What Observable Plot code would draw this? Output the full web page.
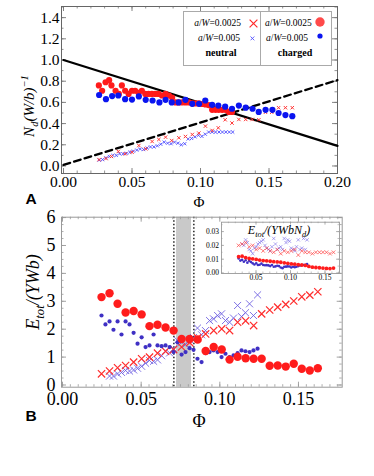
<!DOCTYPE html>
<html><head><meta charset="utf-8">
<script src="https://cdn.jsdelivr.net/npm/d3@7"></script>
<script src="https://cdn.jsdelivr.net/npm/@observablehq/plot@0.6"></script>
<style>
body{margin:0;background:#fff;}
#wrap{position:relative;width:374px;height:476px;overflow:hidden;font-family:"Liberation Serif","Times New Roman","DejaVu Serif",serif;color:#000;}
.abs{position:absolute;}
.rot{transform:translate(-50%,-50%) rotate(-90deg);white-space:nowrap;line-height:1;font-style:italic;}
.ctr{transform:translate(-50%,-50%);white-space:nowrap;line-height:1;}
sub,sup{font-size:70%;line-height:0;}
.lg{font-size:9.5px;line-height:12px;white-space:nowrap;}
.lgb{font-size:10px;line-height:12px;font-weight:bold;white-space:nowrap;}
</style></head><body>
<div id="wrap">
  <div id="pa" class="abs" style="left:0;top:0"></div>
  <div id="pb" class="abs" style="left:0;top:210px"></div>
  <div id="pi" class="abs" style="left:198px;top:214px"></div>

  <!-- legend panel A -->
  <div class="abs" style="left:183px;top:11px;width:147px;height:53px;border:1px solid #aaa;background:#fff;"></div>
  <div class="abs" style="left:260px;top:11px;width:0;height:54px;border-left:1px solid #aaa;"></div>
  <div class="abs lg" style="right:133px;top:17.3px"><i>a</i>/<i>W</i>=0.0025</div>
  <div class="abs lg" style="right:134px;top:31.7px"><i>a</i>/<i>W</i>=0.005</div>
  <div class="abs lg" style="left:265px;top:17.3px"><i>a</i>/<i>W</i>=0.0025</div>
  <div class="abs lg" style="left:266px;top:31.7px"><i>a</i>/<i>W</i>=0.005</div>
  <div class="abs lgb ctr" style="left:221px;top:52.7px">neutral</div>
  <div class="abs lgb ctr" style="left:295px;top:52.7px">charged</div>
  <svg class="abs" style="left:248.5px;top:19px" width="9" height="9"><path d="M0.6,0.6L8.4,8.4M8.4,0.6L0.6,8.4" stroke="#ff2a2a" stroke-width="1.2" fill="none"/></svg>
  <svg class="abs" style="left:249.5px;top:35.5px" width="5" height="5"><path d="M0.5,0.5L4.3,4.3M4.3,0.5L0.5,4.3" stroke="#5050ff" stroke-width="0.9" fill="none"/></svg>
  <svg class="abs" style="left:314.5px;top:16.8px" width="10" height="10"><circle cx="5" cy="5" r="4.7" fill="#ff4a4a"/></svg>
  <svg class="abs" style="left:316.5px;top:32.8px" width="6" height="6"><circle cx="3" cy="3" r="2.6" fill="#0a14f0"/></svg>

  <!-- axis labels -->
  <div class="abs rot" style="left:29px;top:106px;font-size:15px;">N<sub>d</sub>(W/b)<sup>−1</sup></div>
  <div class="abs ctr" style="left:199px;top:202px;font-size:15px;">Φ</div>
  <div class="abs ctr" style="left:31px;top:199px;font-size:15.5px;font-family:'Liberation Sans',Arial,sans-serif;font-weight:bold;">A</div>

  <div class="abs rot" style="left:33px;top:292px;font-size:18px;">E<sub>tot</sub>/(YWb)</div>
  <div class="abs ctr" style="left:199px;top:421px;font-size:18px;">Φ</div>
  <div class="abs ctr" style="left:31px;top:416px;font-size:15.5px;font-family:'Liberation Sans',Arial,sans-serif;font-weight:bold;">B</div>

  <div class="abs ctr" style="left:279px;top:230px;font-size:12px;font-style:italic;">E<sub>tot</sub>/(YWbN<sub>d</sub>)</div>
</div>
<script>
// ---------- Panel A data ----------
const phiA_lines = [0, 0.2];
const nA_solid = [1.0, 0.19];
const nA_dashed = [0.01, 0.81];

const phiA_chgRed = [0.0258,0.0282,0.0307,0.0333,0.0350,0.0380,0.0404,0.0426,0.0450,0.0475,0.0500,0.0523,0.0548,0.0572,0.0597,0.0620,0.0645,0.0670,0.0694,0.0718,0.0745,0.0770,0.0793,0.0818,0.0840,0.0865,0.0890,0.0915,0.0940,0.0963,0.0988,0.1012,0.1036,0.1060,0.1085,0.1110,0.1133,0.1158,0.1182,0.1207,0.1230];
const nA_chgRed = [.76,.71,.79,.81,.76,.71,.68,.76,.71,.68,.71,.71,.69,.71,.68,.68,.68,.68,.68,.665,.68,.665,.645,.60,.60,.60,.60,.60,.59,.59,.59,.585,.58,.575,.53,.53,.53,.53,.53,.51,.51];

const phiA_chgBlue = [0.026,0.031,0.0355,0.040,0.045,0.050,0.055,0.060,0.065,0.070,0.0745,0.079,0.084,0.089,0.094,0.099,0.1035,0.1085,0.113,0.118,0.123,0.128,0.133,0.138,0.1425,0.1475,0.1525,0.157,0.162,0.167];
const nA_chgBlue = [.67,.63,.66,.665,.63,.627,.656,.624,.618,.60,.624,.60,.60,.624,.587,.587,.618,.577,.57,.56,.54,.57,.55,.54,.51,.53,.53,.50,.48,.47];

const phiA_neuRed = [0.026,0.031,0.035,0.040,0.045,0.050,0.055,0.060,0.0647,0.0696,0.0745,0.079,0.0842,0.089,0.094,0.0988,0.1036,0.1085,0.113,0.118,0.123,0.128,0.133,0.1377,0.1426,0.1474,0.152,0.157,0.162,0.167];
const nA_neuRed = [.06,.07,.09,.137,.115,.13,.193,.162,.231,.25,.272,.24,.266,.278,.297,.31,.376,.335,.36,.436,.405,.439,.439,.439,.436,.507,.507,.55,.55,.55];

const phiA_neuBlue = [0.026,0.0285,0.031,0.0335,0.036,0.0385,0.041,0.0435,0.046,0.0485,0.051,0.0535,0.056,0.0585,0.061,0.0635,0.066,0.0685,0.071,0.0735,0.076,0.0785,0.081,0.0835,0.086,0.0885,0.091,0.0935,0.096,0.0985,0.101,0.1035,0.106,0.1085,0.111,0.1135,0.116,0.1185,0.121,0.1235];
const nA_neuBlue = [.055,.06,.077,.09,.10,.10,.115,.115,.12,.13,.14,.15,.16,.155,.17,.18,.18,.19,.205,.225,.215,.21,.225,.215,.20,.21,.255,.26,.275,.29,.28,.30,.32,.32,.32,.32,.32,.32,.32,.32];

// ---------- Panel B data ----------
const bandB = [0.0725, 0.082];
const dottedB = [0.0708, 0.0835];

const phiB_red = [0.0248,0.0299,0.0350,0.0401,0.0452,0.0503,0.0553,0.0604,0.0655,0.0706,0.0757,0.0808,0.0859,0.0910,0.0961,0.1012,0.1062,0.1113,0.1164,0.1215,0.1266,0.1317,0.1368,0.1419,0.1470,0.1521,0.1572,0.1623];
const eB_chgRed = [3.15,3.29,2.91,2.60,2.65,2.53,2.11,2.16,2.06,1.95,1.65,1.65,1.63,1.22,1.36,1.27,0.91,1.01,0.96,0.94,0.94,0.69,0.70,0.66,0.76,0.58,0.52,0.60];
const eB_neuRed = [0.40,0.50,0.62,0.70,0.82,0.94,1.00,1.14,1.21,1.27,1.36,1.52,1.69,1.83,1.95,2.01,1.95,2.25,2.30,2.13,2.55,2.69,2.79,2.89,3.01,3.16,3.22,3.34];

const phiB_chgBlue = [0.0248,0.0273,0.0299,0.0324,0.0350,0.0375,0.0401,0.0426,0.0452,0.0477,0.0503,0.0528,0.0553,0.0579,0.0604,0.0630,0.0655,0.0681,0.0706,0.0731,0.0757,0.0782,0.0808,0.0833,0.0858,0.0884,0.0909,0.0935,0.0960,0.0986,0.1011,0.1036,0.1062,0.1087,0.1113,0.1138,0.1163,0.1189,0.1214,0.1240];
const eB_chgBlue = [2.49,2.17,2.28,1.98,2.28,1.81,2.28,2.17,1.87,1.48,1.71,1.36,1.42,1.81,1.42,1.39,1.42,1.36,1.18,1.53,1.09,1.18,1.32,1.26,0.94,0.82,1.14,1.18,1.24,1.18,1.00,1.12,1.00,1.06,1.14,1.24,1.21,1.18,1.24,1.30];

const phiB_neuBlue = [0.0299,0.0324,0.0350,0.0375,0.0401,0.0426,0.0452,0.0477,0.0503,0.0528,0.0553,0.0579,0.0604,0.0630,0.0655,0.0681,0.0706,0.0731,0.0757,0.0782,0.0808,0.0833,0.0858,0.0884,0.0909,0.0935,0.0960,0.0986,0.1011,0.1036,0.1062,0.1087,0.1113,0.1138,0.1163,0.1189,0.1214,0.1240];
const eB_neuBlue = [.32,.32,.40,.45,.52,.50,.54,.60,.67,.78,.88,.85,.90,1.05,1.21,1.15,1.30,1.60,1.53,1.45,1.62,1.70,2.04,1.80,1.95,2.31,2.37,2.49,2.55,2.31,2.25,2.40,2.85,2.45,2.59,2.91,2.49,3.23];

// ---------- Inset data (E_tot / (Y W b N_d)) ----------
const iB_chgRed = [0.0118,0.0122,0.0112,0.0105,0.0103,0.0098,0.0094,0.0090,0.0088,0.0085,0.0082,0.0080,0.0078,0.0074,0.0070,0.0066,0.0064,0.0060,0.0058,0.0055,0.0048,0.0042,0.0040,0.0038,0.0036,0.0033,0.0032,0.0036];
const iB_neuRed = [0.020,0.021,0.022,0.019,0.020,0.017,0.018,0.016,0.018,0.016,0.015,0.017,0.014,0.016,0.015,0.016,0.017,0.013,0.016,0.015,0.015,0.014,0.015,0.015,0.015,0.015,0.014,0.015];
const iB_neuBlue = [0.021,0.020,0.024,0.022,0.017,0.016,0.014,0.018,0.019,0.021,0.022,0.023,0.024,0.020,0.018,0.017,0.016,0.019,0.025,0.021,0.017,0.018,0.019,0.017,0.025,0.022,0.024,0.023,0.018,0.017,0.016,0.019,0.024,0.017,0.018,0.025,0.017,0.024];
const iB_chgBlue = [0.0105,0.0090,0.0095,0.0082,0.0092,0.0075,0.0088,0.0080,0.0070,0.0062,0.0070,0.0058,0.0060,0.0068,0.0058,0.0056,0.0057,0.0055,0.0050,0.0058,0.0045,0.0048,0.0052,0.0050,0.0040,0.0035,0.0045,0.0046,0.0048,0.0047,0.0040,0.0045,0.0042,0.0045,0.0050,0.0055,0.0056,0.0058,0.0060,0.0064];

// ---------- tick values ----------
const xTicksA = [0, 0.05, 0.10, 0.15, 0.20];
const yTicksA = [0, 0.2, 0.4, 0.6, 0.8, 1.0, 1.2, 1.4];
const xTicksB = [0, 0.05, 0.10, 0.15];
const yTicksB = [0, 1, 2, 3, 4, 5, 6];
const xTicksI = [0.05, 0.10, 0.15];
const yTicksI = [0, 0.01, 0.02, 0.03];

const SERIF = "'Liberation Serif', 'Times New Roman', 'DejaVu Serif', serif";
const zip = (xs, ys) => xs.map((x, i) => ({x, y: ys[i]}));

function frameTicks(xs, ys, len, w, h, color, sw) {
  return [
    Plot.tickX(xs, {x: d => d, insetTop: h - len, stroke: color, strokeWidth: sw}),
    Plot.tickX(xs, {x: d => d, insetBottom: h - len, stroke: color, strokeWidth: sw}),
    Plot.tickY(ys, {y: d => d, insetRight: w - len, stroke: color, strokeWidth: sw}),
    Plot.tickY(ys, {y: d => d, insetLeft: w - len, stroke: color, strokeWidth: sw})
  ];
}

// ---------- Panel A ----------
{
  const W = 374, H = 210, m = {top: 6, right: 37, bottom: 37, left: 61};
  const iw = W - m.left - m.right, ih = H - m.top - m.bottom;
  const minorX = d3.range(0, 0.2001, 0.01), minorY = d3.range(0, 1.501, 0.1);
  const chart = Plot.plot({
    width: W, height: H,
    marginTop: m.top, marginRight: m.right, marginBottom: m.bottom, marginLeft: m.left,
    style: {fontFamily: SERIF, fontSize: "15.5px", color: "black", background: "transparent", overflow: "visible"},
    x: {domain: [-0.00146, 0.2], label: null},
    y: {domain: [-0.071, 1.505], label: null},
    marks: [
      ...frameTicks(minorX, minorY, 2.5, iw, ih, "#777", 0.8),
      ...frameTicks(xTicksA, yTicksA, 5, iw, ih, "#777", 0.9),
      Plot.frame({stroke: "#666", strokeWidth: 1}),
      Plot.axisX({ticks: xTicksA, tickFormat: d3.format(".2f"), tickSize: 0, tickPadding: 2, label: null, fontFamily: SERIF}),
      Plot.axisY({ticks: yTicksA, tickFormat: d3.format(".1f"), tickSize: 0, tickPadding: 2, label: null, fontFamily: SERIF}),
      Plot.line(zip(phiA_lines, nA_solid), {x: "x", y: "y", stroke: "black", strokeWidth: 2.2}),
      Plot.line(zip(phiA_lines, nA_dashed), {x: "x", y: "y", stroke: "black", strokeWidth: 2.2, strokeDasharray: "7,4"}),
      Plot.dot(zip(phiA_neuBlue, nA_neuBlue), {x: "x", y: "y", symbol: "times", r: 1.6, stroke: "#4b4bff", strokeWidth: 0.9}),
      Plot.dot(zip(phiA_neuRed, nA_neuRed), {x: "x", y: "y", symbol: "times", r: 1.7, stroke: "#ff3535", strokeWidth: 1}),
      Plot.dot(zip(phiA_chgRed, nA_chgRed), {x: "x", y: "y", r: 3.1, fill: "#ff1a1a"}),
      Plot.dot(zip(phiA_chgBlue, nA_chgBlue), {x: "x", y: "y", r: 3.1, fill: "#0a14f0"})
    ]
  });
  document.getElementById("pa").appendChild(chart);
}

// ---------- Panel B ----------
{
  const W = 374, H = 266, m = {top: 6.7, right: 32.3, bottom: 89.3, left: 61};
  const iw = W - m.left - m.right, ih = H - m.top - m.bottom;
  const minorX = d3.range(0, 0.1751, 0.005), minorY = d3.range(0, 6.01, 0.25);
  const chart = Plot.plot({
    width: W, height: H,
    marginTop: m.top, marginRight: m.right, marginBottom: m.bottom, marginLeft: m.left,
    style: {fontFamily: SERIF, fontSize: "18px", color: "black", background: "transparent", overflow: "visible"},
    x: {domain: [-0.00064, 0.1778], label: null},
    y: {domain: [-0.079, 6.014], label: null},
    marks: [
      Plot.rect([{x1: bandB[0], x2: bandB[1]}], {x1: "x1", x2: "x2", fill: "#c9c9c9"}),
      Plot.ruleX(dottedB, {x: d => d, stroke: "black", strokeWidth: 1.3, strokeDasharray: "1.5,2"}),
      ...frameTicks(minorX, minorY, 2.5, iw, ih, "#999", 0.8),
      ...frameTicks(xTicksB, yTicksB, 5, iw, ih, "#999", 0.9),
      Plot.frame({stroke: "#999", strokeWidth: 1}),
      Plot.axisX({ticks: xTicksB, tickFormat: d3.format(".2f"), tickSize: 0, tickPadding: 5, label: null, fontFamily: SERIF}),
      Plot.axisY({ticks: yTicksB, tickFormat: d3.format("d"), tickSize: 0, tickPadding: 6, label: null, fontFamily: SERIF}),
      Plot.dot(zip(phiB_neuBlue, eB_neuBlue), {x: "x", y: "y", symbol: "times", r: 3.3, stroke: "#6a5ae0", strokeWidth: 1, strokeOpacity: 0.85}),
      Plot.dot(zip(phiB_red, eB_neuRed), {x: "x", y: "y", symbol: "times", r: 3.4, stroke: "#ff2d2d", strokeWidth: 1.2}),
      Plot.dot(zip(phiB_chgBlue, eB_chgBlue), {x: "x", y: "y", r: 2.1, fill: "#3f30c4"}),
      Plot.dot(zip(phiB_red, eB_chgRed), {x: "x", y: "y", r: 4.2, fill: "#ff1c1c"})
    ]
  });
  document.getElementById("pb").appendChild(chart);
}

// ---------- Inset ----------
{
  const W = 148, H = 72, m = {top: 7.7, right: 7, bottom: 13, left: 23};
  const iw = W - m.left - m.right, ih = H - m.top - m.bottom;
  const minorX = d3.range(0.01, 0.1701, 0.01), minorY = d3.range(0, 0.0361, 0.005);
  const chart = Plot.plot({
    width: W, height: H,
    marginTop: m.top, marginRight: m.right, marginBottom: m.bottom, marginLeft: m.left,
    style: {fontFamily: SERIF, fontSize: "7.5px", color: "black", background: "transparent", overflow: "visible"},
    x: {domain: [0, 0.171], label: null},
    y: {domain: [-0.00036, 0.0368], label: null},
    marks: [
      Plot.frame({fill: "white", stroke: "none"}),
      ...frameTicks(minorX, minorY, 1.5, iw, ih, "#999", 0.6),
      ...frameTicks(xTicksI, yTicksI, 3, iw, ih, "#999", 0.7),
      Plot.frame({stroke: "#999", strokeWidth: 0.9}),
      Plot.axisX({ticks: xTicksI, tickFormat: d3.format(".2f"), tickSize: 0, tickPadding: 1.5, label: null, fontFamily: SERIF}),
      Plot.axisY({ticks: yTicksI, tickFormat: d3.format(".2f"), tickSize: 0, tickPadding: 2.5, label: null, fontFamily: SERIF}),
      Plot.dot(zip(phiB_neuBlue, iB_neuBlue), {x: "x", y: "y", symbol: "times", r: 1.7, stroke: "#7a6ae8", strokeWidth: 0.7, strokeOpacity: 0.85}),
      Plot.dot(zip(phiB_red, iB_neuRed), {x: "x", y: "y", symbol: "times", r: 1.8, stroke: "#ff4040", strokeWidth: 0.7}),
      Plot.dot(zip(phiB_chgBlue, iB_chgBlue), {x: "x", y: "y", r: 1.3, fill: "#3f30c4"}),
      Plot.dot(zip(phiB_red, iB_chgRed), {x: "x", y: "y", r: 1.9, fill: "#ff1c1c"})
    ]
  });
  document.getElementById("pi").appendChild(chart);
}
</script>
</body></html>
